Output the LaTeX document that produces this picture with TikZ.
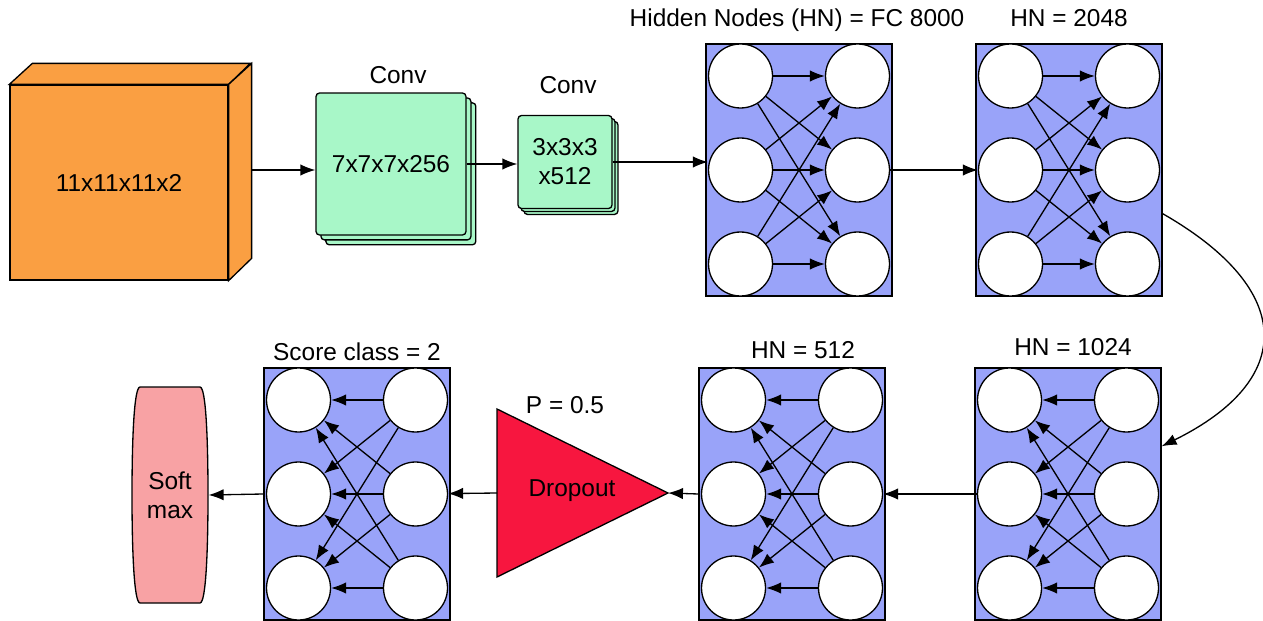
\documentclass[tikz,border=0pt]{standalone}
\usepackage{fontspec}
\setmainfont{Liberation Sans}
\usetikzlibrary{arrows.meta,shadows}
\definecolor{CubeOrange}{HTML}{FA9F42}
\definecolor{ConvGreen}{HTML}{A8F7C8}
\definecolor{PanelBlue}{HTML}{99A3F9}
\definecolor{DropRed}{HTML}{F7163F}
\definecolor{SoftPink}{HTML}{F8A2A4}

% one fully connected block: name, x, y, from column, to column
\newcommand{\fclayer}[5]{%
  \node[panel] (#1) at (#2,#3) {};
  \foreach \r/\dy in {1/-94,2/0,3/94}{
    \node[unit] (#1-l\r) at ({#2-58.5},{#3+\dy}) {};
    \node[unit] (#1-r\r) at ({#2+58.5},{#3+\dy}) {};
  }
  \foreach \i in {1,2,3}{
    \foreach \j in {1,2,3}
      \draw[->] (#1-#4\i) -- (#1-#5\j);
  }
}

\begin{document}
\begin{tikzpicture}[x=0.02cm, y=-0.02cm,
                    >={Latex[length=8.5pt,width=6.5pt]},
                    every node/.style={font=\fontsize{13.9}{16.6}\selectfont},
                    every path/.style={line width=0.75pt},
                    panel/.style={draw, fill=PanelBlue, minimum width=3.72cm,
                                  minimum height=5.04cm, inner sep=0pt},
                    unit/.style={circle, draw, fill=white, minimum size=1.28cm, inner sep=0pt},
                    conv/.style={draw, fill=ConvGreen, rounded corners=2pt, align=center},
                    lbl/.style={inner sep=0pt}]
\useasboundingbox (0,0) rectangle (1263,621);

% input volume
\node[draw, fill=CubeOrange, minimum width=4.36cm, minimum height=3.9cm] (input) at (119,182.5) {11x11x11x2};
\draw[fill=CubeOrange] (input.north west) -- ++(23,-21) -- ++(218,0) -- (input.north east) -- cycle;
\draw[fill=CubeOrange] (input.north east) -- ++(23,-21) -- ++(0,195) -- (input.south east) -- cycle;
\coordinate (input-out) at (251,170);

% convolutions
\node[conv, minimum width=3cm, minimum height=2.84cm,
      double copy shadow={shadow xshift=2.8pt, shadow yshift=-2.8pt, fill=ConvGreen, draw}] (conva) at (391,164) {7x7x7x256};
\node[conv, minimum width=1.88cm, minimum height=1.86cm,
      double copy shadow={shadow xshift=1.7pt, shadow yshift=-1.7pt, fill=ConvGreen, draw}] (convb) at (565,162) {3x3x3\\x512};
\node[lbl] (conva-title) at (398,75) {Conv};
\node[lbl] (convb-title) at (568,85) {Conv};

% fully connected blocks
\fclayer{fca}{799}{170}{l}{r}
\fclayer{fcb}{1069}{170}{l}{r}
\fclayer{fcc}{1068}{494}{r}{l}
\fclayer{fcd}{792}{494}{r}{l}
\fclayer{score}{357}{494}{r}{l}
\node[lbl] (fca-title) at (797,20) {Hidden Nodes (HN) = FC 8000};
\node[lbl] (fcb-title) at (1069,18) {HN = 2048};
\node[lbl] (fcc-title) at (1073,347) {HN = 1024};
\node[lbl] (fcd-title) at (803,350) {HN = 512};
\node[lbl] (score-title) at (357,352) {Score class = 2};

% dropout
\draw[fill=DropRed] (497,409) -- (668,493) -- (497,577) -- cycle;
\coordinate (drop-tip) at (668,493);
\coordinate (drop-base) at (497,493);
\node[lbl] (drop) at (572,491) {Dropout};
\node[lbl] (drop-title) at (565,405) {P = 0.5};

% softmax
\draw[fill=SoftPink] (140,387) -- (200,387) .. controls (206,387) and (208,440) .. (208,495)
  .. controls (208,550) and (206,603) .. (200,603) -- (140,603)
  .. controls (134,603) and (132,550) .. (132,495) .. controls (132,440) and (134,387) .. (140,387) -- cycle;
\node[align=center, minimum width=1.52cm, minimum height=4.32cm] (soft) at (170,495) {Soft\\max};

\draw[->] (input-out) -- (input-out -| conva.west);
\draw[->] (conva.east) -- (conva.east -| convb.west);
\draw[->] (convb.east) -- (convb.east -| fca-l2.west);
\draw[->] (fca-r2) -- (fcb-l2);
\draw[->] (fcb.-25) .. controls (1296,290) and (1296,380) .. (fcc.27);
\draw[->] (fcc-l2) -- (fcd-r2);
\draw[->] (fcd.west) -- (drop-tip);
\draw[->] (drop-base) -- (score-r2);
\draw[->] (score.west) -- (soft.east);
\end{tikzpicture}
\end{document}
